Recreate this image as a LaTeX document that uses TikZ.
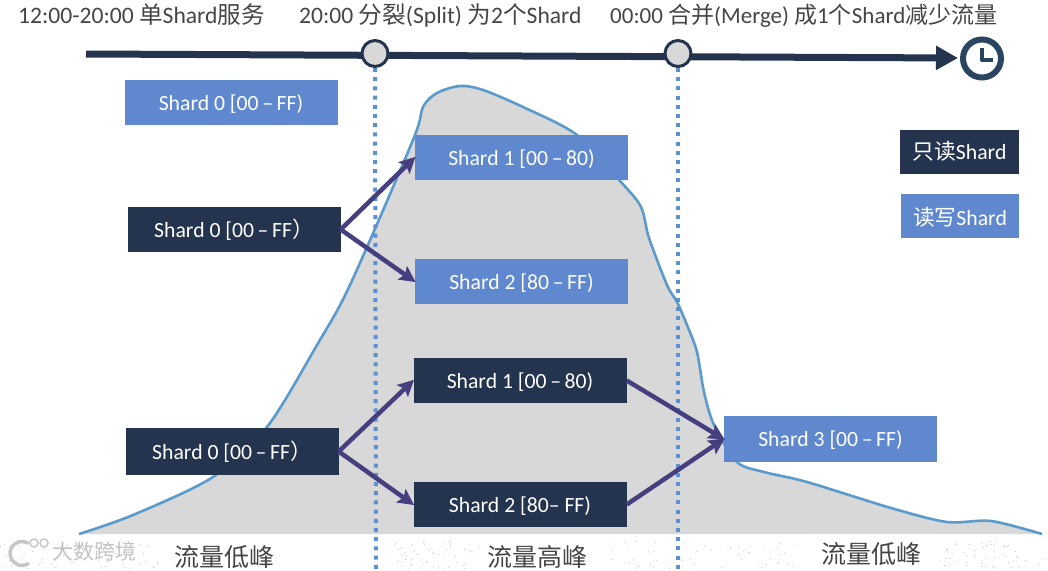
\documentclass[tikz,border=0pt]{standalone}
\usepackage{fontspec}
\setmainfont{Carlito}
\newfontfamily\zhfont{Noto Sans CJK SC}
\newcommand\zh[1]{{\zhfont #1}}
\newcommand\lbl[1]{\raisebox{0pt}[15.5pt][0pt]{#1}}
\usetikzlibrary{arrows.meta}
\definecolor{navy}{HTML}{24344E}
\definecolor{shardblue}{HTML}{6088CF}
\definecolor{arrowc}{HTML}{453F80}
\definecolor{curvec}{HTML}{5B9BCB}
\definecolor{areac}{HTML}{D8D8D8}
\definecolor{dotc}{HTML}{5B90D2}
\definecolor{clockc}{HTML}{2A4560}
\definecolor{textc}{HTML}{454545}
\tikzset{
  x=1pt,y=-1pt,
  shardbox/.style={minimum width=213pt,minimum height=45pt,inner sep=0pt,text=white,font=\fontsize{21.7}{25}\selectfont},
  ro/.style={shardbox,fill=navy},
  rw/.style={shardbox,fill=shardblue},
  flow/.style={draw=arrowc,line width=4.5pt,-{Stealth[length=16pt,width=16pt,inset=3pt]},shorten >=-1pt},
  divider/.style={draw=dotc,line width=4pt,dash pattern=on 4pt off 5.2pt},
  milestone/.style={circle,draw=navy,fill=areac,line width=3pt,minimum size=26pt,inner sep=0pt},
  headline/.style={text=textc,font=\fontsize{23.6}{27}\selectfont,inner sep=0pt},
  bottomlabel/.style={text=textc,font=\fontsize{25}{29}\selectfont,inner sep=0pt},
  speck/.style={fill=black!24},
}
\begin{document}
\begin{tikzpicture}
\useasboundingbox (0,0) rectangle (1048,570);
% traffic curve
\fill[areac] plot[smooth,tension=0.5] coordinates {(79,534) (133,515) (213,477) (267,427) (317,345) (350,285) (413,140) (423,107) (437,93) (460,86) (483,90) (523,107) (577,135) (621,182) (641,207) (649,238) (667,285) (677,302) (687,325) (697,352) (704,392) (714,425) (737,462) (764,472) (807,482) (891,508) (947,522) (991,521) (1042,534)} -- cycle;
\draw[curvec,line width=2.6pt] plot[smooth,tension=0.5] coordinates {(79,534) (133,515) (213,477) (267,427) (317,345) (350,285) (413,140) (423,107) (437,93) (460,86) (483,90) (523,107) (577,135) (621,182) (641,207) (649,238) (667,285) (677,302) (687,325) (697,352) (704,392) (714,425) (737,462) (764,472) (807,482) (891,508) (947,522) (991,521) (1042,534)};
% faint texture along the bottom
\pgfmathsetseed{7}
\foreach \xa/\xb in {0/160,395/480,600/800,935/1048}{
  \foreach \k in {1,...,55}{
    \pgfmathsetmacro\px{\xa+rnd*(\xb-\xa)}
    \pgfmathsetmacro\py{541+rnd*28}
    \fill[speck] (\px,\py) circle (0.6pt);
  }
}
% timeline
\coordinate (tstart) at (86,54);
\coordinate (tend) at (958,58);
\coordinate (d1end) at (376,570);
\coordinate (d2end) at (678,570);
\draw[navy,line width=7pt,-{Triangle[length=22pt,width=23pt]}] (tstart) -- (tend);
\node[milestone] (m1) at (375,53.5) {};
\node[milestone] (m2) at (678,53.5) {};
\draw[divider] (m1.south) -- (d1end);
\draw[divider] (m2.south) -- (d2end);
% clock
\node[circle,draw=clockc,line width=6pt,minimum size=38pt,inner sep=0pt] (clock) at (982,58.5) {};
\coordinate (h1) at (982,48);
\coordinate (h2) at (982,60);
\coordinate (h3) at (993,60);
\draw[clockc,line width=4pt,line join=round] (h1) -- (h2) -- (h3);
% headlines
\node[headline,anchor=west] (t1) at (18,15) {12:00-20:00 \zh{单}Shard\zh{服务}};
\node[headline,anchor=west] (t2) at (299,15) {20:00 \zh{分裂}(Split) \zh{为}2\zh{个}Shard};
\node[headline,anchor=west,font=\fontsize{23}{27}\selectfont] (t3) at (610,16) {00:00 \zh{合并}(Merge) \zh{成}1\zh{个}Shard\zh{减少流量}};
% shards
\node[rw] (s0top) at (231,102.5) {\lbl{Shard 0 [00\,–\,FF)}};
\node[ro] (s0a) at (234,229.5) {\lbl{Shard 0 [00\,–\,FF\zh{）}}};
\node[rw] (s1a) at (521.5,157.5) {\lbl{Shard 1 [00\,–\,80)}};
\node[rw] (s2a) at (521.5,281.5) {\lbl{Shard 2 [80\,–\,FF)}};
\node[ro,minimum height=47pt] (s0b) at (232,451.5) {\lbl{Shard 0 [00\,–\,FF\zh{）}}};
\node[ro] (s1b) at (520,380.5) {\lbl{Shard 1 [00\,–\,80)}};
\node[ro] (s2b) at (520,504.5) {\lbl{Shard 2 [80– FF)}};
\node[rw,minimum height=46pt] (s3) at (830.5,439) {\lbl{Shard 3 [00\,–\,FF)}};
% flows
\draw[flow] (s0a.east) -- (s1a.west);
\draw[flow] (s0a.east) -- (s2a.west);
\draw[flow] (s0b.east) -- (s1b.west);
\draw[flow] (s0b.east) -- (s2b.west);
\draw[flow] (s1b.east) -- (s3.west);
\draw[flow] (s2b.east) -- (s3.west);
% legend
\node[ro,minimum width=119pt,minimum height=44pt] (lro) at (959.5,152) {\lbl{\zh{只读}Shard}};
\node[rw,minimum width=118pt,minimum height=44pt] (lrw) at (960,216) {\raisebox{0pt}[19pt][0pt]{\zh{读写}Shard}};
% bottom labels
\node[bottomlabel] (b1) at (224,557) {\zh{流量低峰}};
\node[bottomlabel] (b2) at (537,557) {\zh{流量高峰}};
\node[fill=white,minimum width=128pt,minimum height=36pt,inner sep=0pt] (b3bg) at (871,552) {};
\node[bottomlabel] (b3) at (871,554) {\zh{流量低峰}};
% watermark
\draw[black!22,line width=3.5pt,line cap=round] (28,543) arc[start angle=60,end angle=300,radius=12pt];
\draw[black!22,line width=1.5pt] (34,543) circle (4pt) (44,543) circle (4pt);
\node[inner sep=0pt,text=black!24,font=\fontsize{21}{24}\selectfont] (wm) at (94,551) {\zh{大数跨境}};
\end{tikzpicture}
\end{document}
